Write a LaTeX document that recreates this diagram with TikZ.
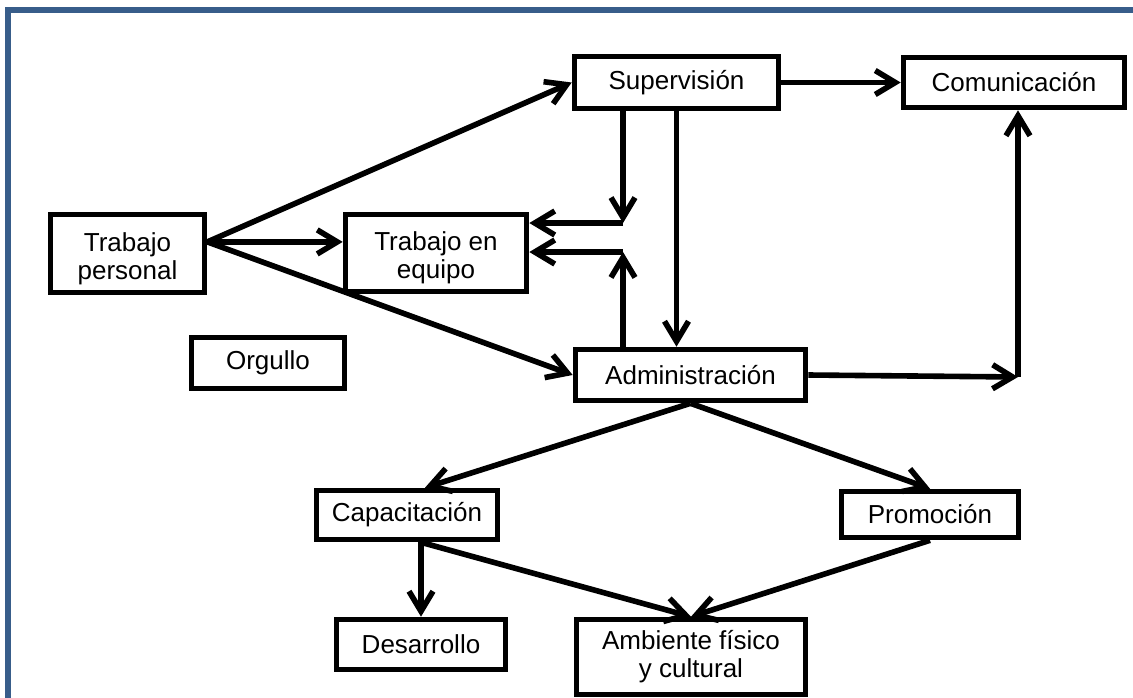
\documentclass[tikz,border=0pt]{standalone}
\usepackage{fontspec}
\setmainfont{Liberation Sans}
\usetikzlibrary{arrows.meta}
\definecolor{framec}{RGB}{56,93,138}
\newcommand{\lowtext}{\rule{0pt}{0.72cm}}
\tikzset{
  box/.style={draw, line width=0.14cm, inner sep=0pt, align=center,
    font=\fontsize{18.5}{20}\selectfont},
  arr/.style={line width=0.14cm, -{Straight Barb[length=0.5cm,width=0.6cm]}}
}
\begin{document}
\begin{tikzpicture}[x=0.025cm, y=-0.025cm]
\useasboundingbox (0,0) rectangle (1133,698);
%frame
\draw[framec, line width=0.15cm] (8,698) -- (8,10) -- (1133,10);
%boxes
\node[box, minimum width=5.1cm, minimum height=1.3cm] (sup) at (676.5,82.5) {Supervisión};
\node[box, minimum width=5.525cm, minimum height=1.25cm] (com) at (1014,82.5) {Comunicación};
\node[box, minimum width=3.85cm, minimum height=1.95cm] (tp) at (127.5,253.5) {\lowtext Trabajo\\personal};
\node[box, minimum width=4.525cm, minimum height=1.925cm] (te) at (436,253) {\lowtext Trabajo en\\equipo};
\node[box, minimum width=3.825cm, minimum height=1.275cm] (org) at (268,363) {Orgullo};
\node[box, minimum width=5.75cm, minimum height=1.275cm] (adm) at (690.5,375) {Administración};
\node[box, minimum width=4.525cm, minimum height=1.225cm] (cap) at (407,515) {Capacitación};
\node[box, minimum width=4.425cm, minimum height=1.15cm] (pro) at (930,514.5) {Promoción};
\node[box, minimum width=4.225cm, minimum height=1.25cm] (des) at (421,644.5) {Desarrollo};
\node[box, minimum width=5.725cm, minimum height=1.875cm] (amb) at (691,657) {Ambiente físico\\y cultural};
%meeting points
\coordinate (tpo) at ([yshift=0.29cm]tp.east);
\coordinate (j1) at (623,223);
\coordinate (j2) at (623,252);
\coordinate (j3) at (1018,377);
\coordinate (c1) at (des.north |- cap.south);
%from trabajo personal
\draw[arr] (tpo) -- (sup.west);
\draw[arr] (tpo) -- (te.west |- tpo);
\draw[arr] (tpo) -- (adm.west);
%supervision
\draw[arr] (sup.east) -- (com.west);
\draw[arr] (sup.south -| j1) -- (j1);
\draw[arr] (sup.south) -- (sup.south |- adm.north);
\draw[arr] (adm.north -| j2) -- (j2);
\foreach \j in {j1,j2}{
\draw[arr] (\j) -- (te.east |- \j);
}
%administracion
\draw[arr] (adm.east) -- (j3);
\draw[arr] (j3) -- (j3 |- com.south);
\draw[arr] (adm.south) -- ([xshift=0.45cm]cap.north);
\draw[arr] (adm.south) -- (pro.north);
%lower part
\draw[arr] (c1) -- (des.north);
\draw[arr] (c1) -- (amb.north);
\draw[arr] (pro.south) -- (amb.north);
\end{tikzpicture}
\end{document}
